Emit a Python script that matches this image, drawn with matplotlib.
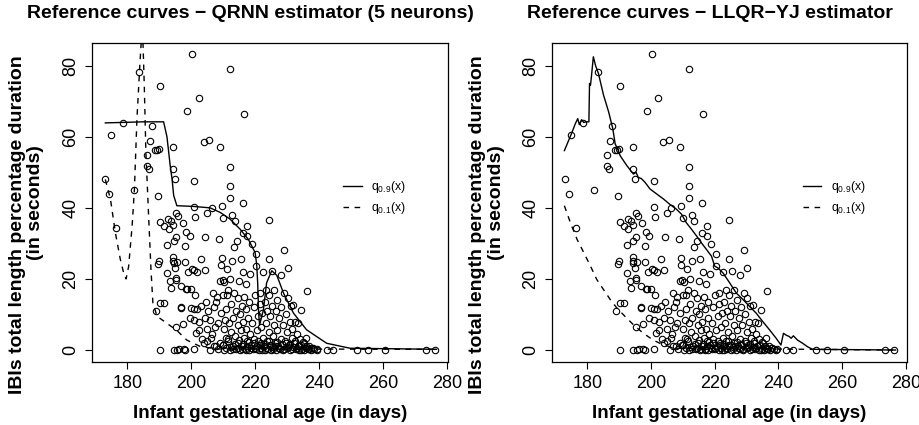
import matplotlib
matplotlib.use("Agg")
import matplotlib.pyplot as plt
import numpy as np

plt.rcParams['font.family'] = ['Liberation Sans', 'DejaVu Sans']
plt.rcParams['mathtext.fontset'] = 'custom'
plt.rcParams['mathtext.rm'] = 'Liberation Sans'
plt.rcParams['mathtext.it'] = 'Liberation Sans'

# ---- observed data: gestational age (days) and IBI percentage duration ----
age = [
    173.1, 174.4, 175.0, 176.6, 178.5, 182.2, 183.5, 186.1, 186.3, 186.8, 187.2, 187.6,
    188.8, 189.4, 190.0, 189.6, 189.0, 189.6, 190.0, 190.3, 190.3, 190.3, 190.3,
    191.4, 191.5, 192.4, 192.4, 192.7, 192.9, 193.4, 193.8, 193.75, 194.2, 194.2, 194.2,
    194.5, 194.2, 194.2, 194.5, 194.5, 194.9, 195.0, 195.3, 195.3, 195.3, 195.3, 195.3,
    195.5, 195.5, 196.0, 196.2, 196.9, 196.9, 196.9, 197.3, 197.4, 197.6, 198.1, 198.1,
    198.1, 198.3, 198.4, 198.8, 198.8, 199.5, 199.9, 199.5, 199.0, 200.2, 200.0, 200.2, 200.8,
    201.0, 201.0, 201.3, 201.0, 201.3, 201.0, 201.0, 201.5, 201.8, 201.9, 202.3, 202.4,
    202.5, 203.0, 203.0, 203.3, 203.9, 204.4, 204.0, 204.2, 204.5, 205.0, 205.0, 205.3,
    205.7, 205.9, 206.0, 206.4, 206.5, 206.8, 207.0, 207.2, 207.8, 207.5, 204.2,
    208.1, 208.3, 208.5, 208.8, 209.0, 209.1, 209.2, 209.3, 209.5, 209.5, 209.8, 209.8,
    210.0, 210.1, 210.2, 210.3, 210.4, 210.6, 210.8, 211.0, 211.0, 211.1, 211.3, 211.5,
    211.6, 211.8, 212.0, 212.0, 212.0, 212.0, 212.0, 212.2, 212.4, 212.5, 212.8, 212.9,
    213.0, 213.2, 213.4, 213.5, 213.6, 213.8, 214.0, 214.0, 214.3,
    214.5, 214.7, 214.8, 215.0, 215.2, 215.3, 215.5, 215.6, 215.8, 216.0, 216.1, 216.1,
    216.1, 216.3, 216.4, 216.5, 216.6, 216.8, 217.0, 217.2, 217.3, 217.6, 217.6, 217.5,
    217.8, 218.0, 218.0, 218.3, 218.5, 218.6, 218.9, 219.0, 219.2, 219.5, 219.6, 220.0,
    220.0, 220.3, 220.3, 220.5, 220.6,
    221.0, 221.2, 221.4, 221.5, 221.7, 222.0, 222.0, 222.3, 222.5, 222.6, 222.8, 223.0,
    223.0, 223.3, 223.5, 223.6, 223.8, 224.0, 224.2, 224.5, 224.5, 224.5, 224.6, 224.8,
    225.0, 225.2, 225.4, 225.5, 225.7, 226.0, 226.0, 226.2, 226.5, 226.6, 227.0, 227.0,
    227.3, 227.5, 227.8, 228.0, 228.0, 228.2,
    228.6, 228.8, 229.1, 229.2, 229.5, 229.6, 230.0, 230.0, 230.2, 230.3, 230.6, 230.8,
    231.0, 231.2, 231.4, 231.6, 232.0, 232.0, 232.3, 232.5, 232.8, 233.0, 233.3, 233.5,
    233.8, 234.0, 234.3, 234.5, 234.8, 235.0, 235.4, 235.8, 236.0, 236.4, 236.5, 237.0,
    237.5, 238.0, 238.5, 239.3, 239.5, 242.4, 244.5, 251.8, 255.4, 260.6, 273.6, 276.3,
    212.5, 213.0, 213.7, 214.5, 215.0, 215.8, 216.3, 217.0, 217.5, 218.2, 218.8, 219.5,
    220.2, 221.0, 221.6, 222.3, 223.0, 223.5, 224.2, 225.0, 225.6, 226.3, 227.0, 227.6,
    228.3, 229.0, 229.7, 230.4, 231.0, 231.7, 232.4, 233.1, 233.8, 234.5, 235.2, 236.0,
    236.8, 237.6, 210.0, 211.4, 209.0, 207.9, 206.2, 205.0,
]
ibi = [
    48.1, 43.9, 60.6, 34.2, 63.9, 45.0, 78.2, 55.0, 51.8, 51.0, 58.7, 62.9,
    56.3, 56.4, 56.5, 43.3, 11.0, 24.2, 25.0, 36.0, 74.4, 0.0, 13.1,
    35.0, 13.1, 29.6, 21.6, 36.9, 34.1, 19.5, 17.4, 36.4, 35.3, 57.0, 51.0,
    30.8, 26.1, 25.1, 24.5, 0.0, 48.0, 23.1, 38.5, 31.9, 20.4, 19.8, 6.5,
    24.7, 0.1, 37.6, 0.2, 18.0, 12.1, 11.7, 35.7, 7.2, 0.3, 29.4, 24.7,
    0.0, 33.1, 17.3, 17.1, 67.3, 32.2, 17.1, 9.0, 22.0, 22.8, 11.9, 83.2, 0.2,
    47.5, 40.1, 37.4, 22.4, 15.5, 11.4, 8.5, 4.9, 22.0, 11.4, 70.8, 8.0,
    5.5, 25.6, 12.5, 3.0, 58.5, 31.7, 2.0, 9.0, 13.5, 38.5, 6.0, 11.0,
    59.2, 0.0, 8.5, 39.9, 4.5, 16.0, 1.0, 12.0, 13.6, 6.5, 22.6,
    15.0, 7.5, 0.2, 31.1, 19.5, 57.1, 10.5, 23.8, 40.4, 26.0, 1.5, 19.8,
    15.5, 37.2, 6.0, 0.0, 19.0, 8.5, 3.5, 11.5, 0.5, 15.5, 22.9, 17.0,
    2.5, 7.5, 79.1, 51.6, 46.2, 42.8, 0.0, 20.0, 13.0, 5.0, 38.1, 25.0,
    9.0, 1.0, 29.0, 16.0, 36.3, 4.0, 11.0, 0.3, 30.8,
    14.5, 7.0, 2.0, 19.5, 10.0, 0.0, 25.5, 5.5, 12.5, 1.0, 32.9, 41.5,
    8.0, 22.0, 66.4, 3.5, 15.0, 0.4, 11.5, 6.0, 18.5, 34.9, 32.1, 2.5,
    9.0, 0.0, 13.5, 4.5, 21.5, 1.5, 29.7, 7.5, 0.2, 12.0, 3.0, 15.5,
    0.5, 27.0, 23.7, 5.5, 1.0,
    9.5, 0.0, 13.0, 16.0, 2.0, 6.5, 0.5, 10.5, 22.0, 3.5, 1.0, 13.5,
    0.0, 7.5, 17.0, 2.5, 11.0, 0.3, 5.0, 36.5, 25.5, 15.5, 1.5, 9.5,
    0.0, 12.5, 22.3, 4.0, 0.8, 17.0, 7.0, 2.0, 11.0, 0.0, 5.5, 14.0,
    1.2, 9.0, 0.3, 21.0, 3.0, 12.0,
    7.0, 0.0, 28.0, 16.0, 2.5, 10.0, 0.5, 5.0, 23.1, 14.5, 1.5, 8.0,
    0.0, 12.4, 3.5, 6.0, 0.8, 12.8, 2.0, 8.0, 0.2, 4.5, 1.0, 7.5,
    0.0, 3.0, 1.5, 11.3, 0.4, 2.2, 0.0, 1.0, 3.5, 16.7, 0.3, 1.0,
    0.0, 0.5, 0.2, 0.0, 0.3, 0.0, 0.0, 0.0, 0.0, 0.0, 0.0, 0.0,
    0.8, 0.2, 1.8, 0.6, 2.8, 0.3, 1.6, 0.1, 1.2, 2.2, 0.6, 1.9,
    0.2, 2.6, 1.4, 0.1, 1.8, 0.7, 2.4, 1.5, 0.3, 1.0, 2.2, 0.6,
    1.7, 0.2, 2.0, 0.9, 1.6, 0.3, 2.5, 0.6, 1.3, 0.1, 2.0, 0.7,
    0.2, 0.6, 1.5, 3.0, 2.0, 1.0, 3.5, 2.5,
]

# ---- QRNN reference curves (left panel) ----
qrnn_q90_x = [173.1, 185.0, 191.35, 192.4, 193.4, 194.0, 194.5, 195.5, 200.7, 205.9,
              209.1, 212.2, 215.3, 217.9, 220.0, 220.5, 220.8, 221.1, 221.4, 222.6,
              223.6, 225.2, 226.8, 228.9, 232.0, 236.1, 242.4, 249.7, 276.8]
qrnn_q90_y = [63.9, 64.2, 64.2, 60.0, 52.0, 48.1, 43.5, 40.6, 40.4, 40.0,
              38.7, 36.8, 34.0, 31.1, 27.4, 24.0, 19.0, 10.4, 7.0, 11.3,
              18.9, 22.3, 21.0, 16.0, 10.4, 5.7, 1.9, 0.5, 0.2]
qrnn_q10_x = [173.1, 174.7, 176.25, 177.8, 178.9, 179.6, 180.4, 181.5, 182.2, 183.0,
              183.9, 184.7, 185.3, 185.8, 186.7, 187.4, 188.0, 189.3, 192.4, 195.5,
              198.6, 202.8, 208.0, 276.8]
qrnn_q10_y = [48.0, 42.5, 33.0, 25.5, 21.5, 20.0, 23.5, 35.0, 45.0, 65.0,
              80.0, 92.0, 74.5, 55.7, 36.8, 22.6, 13.2, 9.5, 7.5, 5.5,
              2.8, 1.0, 0.3, 0.2]

# ---- LLQR-YJ reference curves (right panel) ----
llqr_q90_x = [172.8, 175.0, 176.25, 177.0, 177.5, 178.2, 178.9, 179.5, 180.5, 180.7,
              181.0, 181.3, 181.9, 182.6, 183.5, 185.1, 186.7, 188.0, 188.75, 189.5,
              190.3, 192.4, 194.5, 195.3, 196.0, 197.0, 198.1, 199.7, 201.8, 203.9,
              205.9, 208.0, 209.6, 211.1, 212.7, 214.3, 215.8, 217.4, 219.0, 220.0,
              221.0, 222.6, 224.7, 226.8, 228.9, 230.9, 233.0, 235.1, 237.2, 239.3,
              240.8, 241.6, 242.4, 243.4, 244.0, 244.7, 246.0, 247.6, 249.2, 250.7, 276.8]
llqr_q90_y = [56.1, 60.8, 63.7, 65.1, 63.4, 64.8, 64.0, 64.2, 64.2, 75.0,
              74.5, 77.0, 82.5, 80.0, 77.8, 71.7, 67.0, 62.3, 58.0, 56.6,
              54.7, 51.9, 49.5, 50.0, 48.6, 48.2, 47.2, 45.3, 43.9, 42.5,
              41.0, 39.6, 38.2, 35.8, 34.0, 32.1, 30.2, 28.3, 26.4, 23.6,
              23.1, 21.7, 18.9, 16.0, 14.2, 12.3, 10.4, 8.0, 5.7, 3.3,
              1.4, 4.7, 4.2, 3.8, 3.3, 4.0, 2.8, 1.9, 0.9, 0.2, 0.0]
llqr_q10_x = [172.8, 174.7, 176.8, 178.9, 181.0, 183.0, 185.1, 187.2, 189.3, 191.9,
              194.5, 197.6, 200.7, 203.9, 208.0, 276.8]
llqr_q10_y = [40.6, 35.8, 31.1, 27.4, 23.6, 19.8, 17.0, 14.2, 11.8, 9.4,
              7.1, 4.7, 2.8, 1.4, 0.5, 0.0]

titles = ["Reference curves \u2212 QRNN estimator (5 neurons)",
          "Reference curves \u2212 LLQR\u2212YJ estimator"]
xlabel = "Infant gestational age (in days)"
ylabel_line1 = "IBIs total length percentage duration"
ylabel_line2 = "(in seconds)"
xticks = [180, 200, 220, 240, 260, 280]
yticks = [0, 20, 40, 60, 80]
legend_labels = [r"$\mathrm{q}_{0.9}(\mathrm{x})$", r"$\mathrm{q}_{0.1}(\mathrm{x})$"]

fig = plt.figure(figsize=(9.19, 4.25), dpi=100)
axes = [fig.add_axes([0.100, 0.148, 0.3875, 0.751]),
        fig.add_axes([0.6006, 0.148, 0.3864, 0.751])]
curves = [(qrnn_q90_x, qrnn_q90_y, qrnn_q10_x, qrnn_q10_y),
          (llqr_q90_x, llqr_q90_y, llqr_q10_x, llqr_q10_y)]

for ax, title, (ax90, ay90, ax10, ay10) in zip(axes, titles, curves):
    ax.plot(age, ibi, 'o', mfc='none', mec='black', ms=4.6, mew=0.8, zorder=2)
    l1, = ax.plot(ax90, ay90, '-', color='black', lw=1.0, zorder=3)
    l2, = ax.plot(ax10, ay10, '--', color='black', lw=1.0, dashes=(4, 4), zorder=3)
    ax.set_xlim(168.9, 280.4)
    ax.set_ylim(-3.4, 86.4)
    ax.set_xticks(xticks)
    ax.set_yticks(yticks)
    ax.tick_params(axis='both', direction='out', length=5, width=0.8, labelsize=13,
                   colors='black')
    for lab in ax.get_yticklabels():
        lab.set_rotation(90)
        lab.set_va('center')
    ax.tick_params(axis='x', pad=4)
    ax.tick_params(axis='y', pad=4)
    for s in ax.spines.values():
        s.set_linewidth(0.9)
    ax.set_title(title, fontsize=14, fontweight='bold', pad=18, x=0.445)
    ax.set_xlabel(xlabel, fontsize=13.5, fontweight='bold', labelpad=10)
    ax.text(-0.157, 0.5, ylabel_line2, transform=ax.transAxes, rotation=90,
            ha='center', va='center', fontsize=14, fontweight='bold')
    ax.text(-0.21, 0.43, ylabel_line1, transform=ax.transAxes, rotation=90,
            ha='center', va='center', fontsize=14, fontweight='bold')
    ax.legend([l1, l2], legend_labels, loc='center left', bbox_to_anchor=(0.675, 0.516),
              frameon=False, fontsize=8.8, handlelength=1.5, handletextpad=0.8,
              labelspacing=0.4)

fig.savefig("out.png", dpi=100)
